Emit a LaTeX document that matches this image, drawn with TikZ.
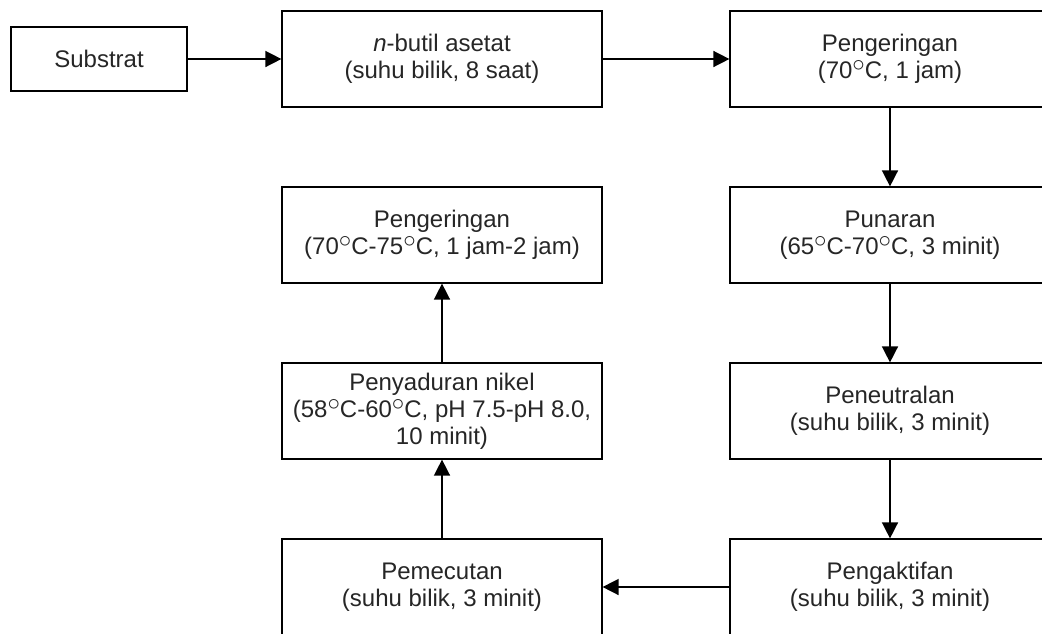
\documentclass[tikz,border=0pt]{standalone}
\usepackage{fontspec}
\setmainfont{Liberation Sans}
\usetikzlibrary{arrows.meta}
\newcommand{\dgr}{\raisebox{0.28em}{$\circ$}}
\begin{document}
\begin{tikzpicture}[x=1pt,y=-1pt,
 box/.style={draw=black, line width=1.2pt, minimum width=320pt, minimum height=96pt, align=center, font=\fontsize{24}{27}\selectfont, inner sep=0pt, text=black!85},
 arr/.style={-{Triangle[length=16pt,width=16pt]}, line width=1.5pt}]
\useasboundingbox (0,0) rectangle (1042,633);
\fill[white] (0,0) rectangle (1042,633);
\begin{scope}
\clip (0,0) rectangle (1042,633);
\node[box, minimum width=176pt, minimum height=64pt] (sub) at (99,59) {Substrat};
\node[box] (but) at (442,59) {\textit{n}-butil asetat\\(suhu bilik, 8 saat)};
\node[box] (dry1) at (890,59) {Pengeringan\\(70\dgr C, 1 jam)};
\node[box] (pun) at (890,235) {Punaran\\(65\dgr C-70\dgr C, 3 minit)};
\node[box] (neu) at (890,411) {Peneutralan\\(suhu bilik, 3 minit)};
\node[box] (akt) at (890,587) {Pengaktifan\\(suhu bilik, 3 minit)};
\node[box] (pec) at (442,587) {Pemecutan\\(suhu bilik, 3 minit)};
\node[box] (nik) at (442,411) {Penyaduran nikel\\(58\dgr C-60\dgr C, pH 7.5-pH 8.0,\\10 minit)};
\node[box] (dry2) at (442,235) {Pengeringan\\(70\dgr C-75\dgr C, 1 jam-2 jam)};
\draw[arr] (sub) -- (but);
\draw[arr] (but) -- (dry1);
\draw[arr] (dry1) -- (pun);
\draw[arr] (pun) -- (neu);
\draw[arr] (neu) -- (akt);
\draw[arr] (akt) -- (pec);
\draw[arr] (pec) -- (nik);
\draw[arr] (nik) -- (dry2);
\end{scope}
\end{tikzpicture}
\end{document}
